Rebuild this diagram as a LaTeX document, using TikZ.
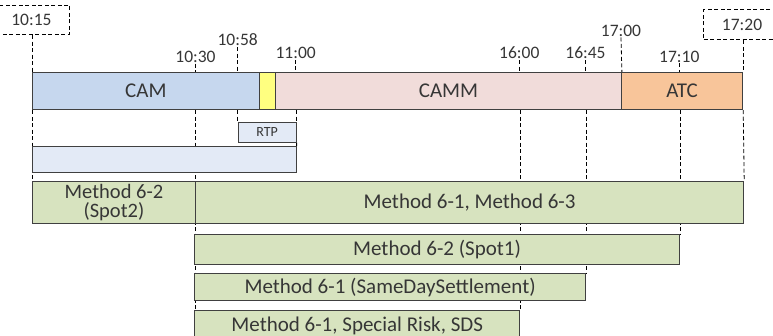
\documentclass[tikz,border=0pt]{standalone}
\usepackage{fontspec}
\setmainfont{Carlito}
\usetikzlibrary{backgrounds}
\definecolor{bord}{HTML}{404040}
\definecolor{txt}{HTML}{363636}
\definecolor{camc}{HTML}{C6D7EE}
\definecolor{yelc}{HTML}{FFFF80}
\definecolor{cammc}{HTML}{F1DCDA}
\definecolor{atcc}{HTML}{F8C59A}
\definecolor{lbc}{HTML}{E3EAF6}
\definecolor{grc}{HTML}{D7E3BF}
\tikzset{
  bx/.style={draw=bord, line width=0.9pt, inner sep=0pt, anchor=north west, text=txt,
    font=\fontsize{21}{23}\selectfont, align=center},
  tl/.style={inner sep=1pt, text=txt, font=\fontsize{17.5}{20}\selectfont},
  tbox/.style={tl, draw=black, line width=0.8pt, dash pattern=on 4pt off 2.5pt,
    anchor=north west, inner sep=0pt},
  dl/.style={draw=black, line width=0.8pt, dash pattern=on 4pt off 2.5pt}
}
\begin{document}
\begin{tikzpicture}[x=1pt,y=-1pt]
\useasboundingbox (0,0) rectangle (773,335);
% main bar
\node[bx, fill=camc, minimum width=226.7pt, minimum height=37pt] (cam) at (32,72.3) {CAM};
\node[bx, fill=yelc, minimum width=16.3pt, minimum height=37pt] (yel) at (258.7,72.3) {};
\node[bx, fill=cammc, minimum width=346pt, minimum height=37pt] (camm) at (275,72.3) {CAMM};
\node[bx, fill=atcc, minimum width=121.3pt, minimum height=37pt] (atc) at (621,72.3) {ATC};
% time labels
\node[tbox, minimum width=73pt, minimum height=29.6pt] (t1015) at (-4,4.7) {\hspace*{-3pt}10:15};
\node[tbox, minimum width=76.7pt, minimum height=30pt] (t1720) at (703.3,9.3) {17:20};
\node[tl] (l1030) at (195.5,56.7) {10:30};
\node[tl] (l1058) at (237.7,40) {10:58};
\node[tl] (l1100) at (295.7,53) {11:00};
\node[tl] (l1600) at (519.3,53) {16:00};
\node[tl] (l1645) at (585.5,53) {16:45};
\node[tl] (l1700) at (621,30.5) {17:00};
\node[tl] (l1710) at (679.3,56.5) {17:10};
% lower boxes
\node[bx, fill=lbc, font=\fontsize{14}{16}\selectfont, minimum width=58pt, minimum height=19.4pt] (rtp) at (237.7,122.3) {RTP};
\node[bx, fill=lbc, minimum width=263.7pt, minimum height=26.3pt] (lb) at (32,146) {};
\node[bx, fill=grc, minimum width=163pt, minimum height=42pt, font=\fontsize{20.5}{19}\selectfont] (spot2) at (32,180.7) {Method 6-2\\(Spot2)};
\node[bx, fill=grc, minimum width=548.3pt, minimum height=42pt] (m613) at (195,180.7) {Method 6-1, Method 6-3};
\node[bx, fill=grc, minimum width=484.7pt, minimum height=30pt] (spot1) at (194.3,234.3) {Method 6-2 (Spot1)};
\node[bx, fill=grc, minimum width=390.7pt, minimum height=26.7pt] (sameday) at (194.3,273.3) {Method 6-1 (SameDaySettlement)};
\node[bx, fill=grc, minimum width=325pt, minimum height=30pt] (special) at (194.3,310) {Method 6-1, Special Risk, SDS};
% dashed guides
\begin{pgfonlayer}{background}
\draw[dl] (t1015.south -| cam.north west) -- (cam.north west);
\draw[dl] (cam.south west) -- (spot2.north west);
\draw[dl] (l1030.south) -- (l1030.south |- cam.north);
\draw[dl] (l1030.south |- cam.south) -- (l1030.south |- special.north);
\draw[dl] (l1058.south) -- (l1058.south |- cam.north);
\draw[dl] (rtp.north west |- cam.south) -- (rtp.north west);
\draw[dl] (l1100.south) -- (l1100.south |- camm.north);
\draw[dl] (rtp.north east |- camm.south) -- (rtp.north east);
\draw[dl] (rtp.south east) -- (lb.north east);
\draw[dl] (l1600.south) -- (l1600.south |- camm.north);
\draw[dl] (special.north east |- camm.south) -- (special.north east);
\draw[dl] (l1645.south) -- (l1645.south |- camm.north);
\draw[dl] (sameday.north east |- camm.south) -- (sameday.north east);
\draw[dl] (l1700.south) -- (camm.north east);
\draw[dl] (l1710.south) -- (l1710.south |- atc.north);
\draw[dl] (spot1.north east |- atc.south) -- (spot1.north east);
\draw[dl] (t1720.south -| atc.north east) -- (atc.north east);
\draw[dl] (atc.south east) -- (m613.north east);
\end{pgfonlayer}
\end{tikzpicture}
\end{document}
